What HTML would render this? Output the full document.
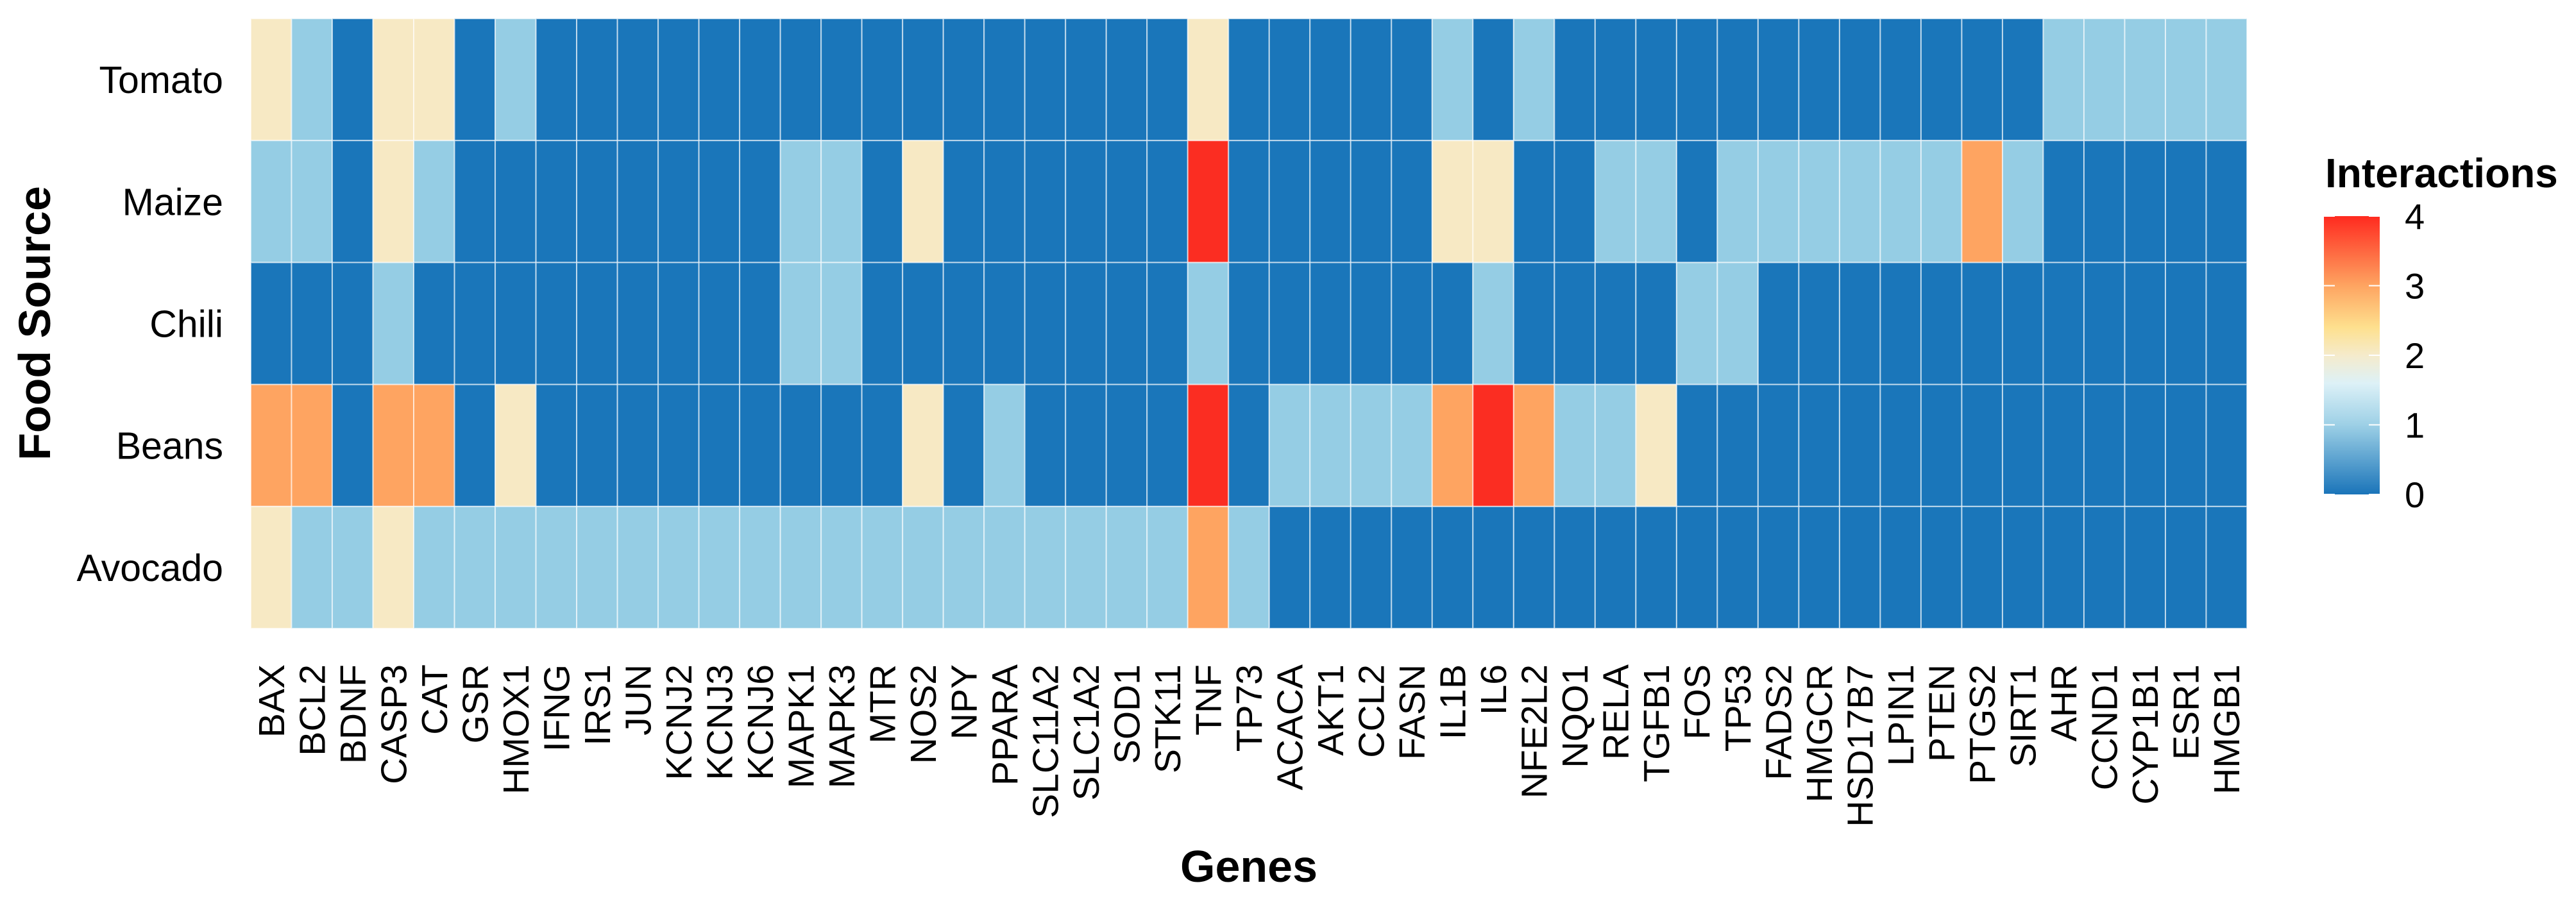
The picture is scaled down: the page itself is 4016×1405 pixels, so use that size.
<!DOCTYPE html>
<html><head><meta charset="utf-8">
<style>
html,body{margin:0;padding:0;background:#fff;}
svg{display:block;font-family:"Liberation Sans",Arial,sans-serif;}
</style></head>
<body>
<svg id="chart" width="4016" height="1405" viewBox="0 0 4016 1405" xmlns="http://www.w3.org/2000/svg">
<defs>
<linearGradient id="lg" x1="0" y1="1" x2="0" y2="0">
<stop offset="0" stop-color="#1A74B9"/>
<stop offset="0.25" stop-color="#9DD0E6"/>
<stop offset="0.4" stop-color="#DDF1F7"/>
<stop offset="0.5" stop-color="#F5EBCB"/>
<stop offset="0.6" stop-color="#FEE08E"/>
<stop offset="0.75" stop-color="#FEA461"/>
<stop offset="1" stop-color="#FF2A1F"/>
</linearGradient>
</defs>
<g id="cells"></g>
<g id="xlabels"></g>
<g id="ylabels"></g>
<text x="0" y="0" transform="translate(78,504) rotate(-90)" text-anchor="middle" font-size="70" font-weight="bold">Food Source</text>
<text x="1947" y="1375" text-anchor="middle" font-size="70" font-weight="bold">Genes</text>
<g>
<text x="3625" y="292" font-size="64" font-weight="bold">Interactions</text>
<rect x="3623" y="337" width="87" height="434" fill="url(#lg)"/>
<g id="legticks"></g>
</g>
</svg>
<script>
const genes = ["BAX","BCL2","BDNF","CASP3","CAT","GSR","HMOX1","IFNG","IRS1","JUN","KCNJ2","KCNJ3","KCNJ6","MAPK1","MAPK3","MTR","NOS2","NPY","PPARA","SLC11A2","SLC1A2","SOD1","STK11","TNF","TP73","ACACA","AKT1","CCL2","FASN","IL1B","IL6","NFE2L2","NQO1","RELA","TGFB1","FOS","TP53","FADS2","HMGCR","HSD17B7","LPIN1","PTEN","PTGS2","SIRT1","AHR","CCND1","CYP1B1","ESR1","HMGB1"];
const foods = ["Tomato","Maize","Chili","Beans","Avocado"];
const tomato  = [2,1,0,2,2,0,1,0,0,0,0,0,0,0,0,0,0,0,0,0,0,0,0,2,0,0,0,0,0,1,0,1,0,0,0,0,0,0,0,0,0,0,0,0,1,1,1,1,1];
const maize   = [1,1,0,2,1,0,0,0,0,0,0,0,0,1,1,0,2,0,0,0,0,0,0,4,0,0,0,0,0,2,2,0,0,1,1,0,1,1,1,1,1,1,3,1,0,0,0,0,0];
const chili   = [0,0,0,1,0,0,0,0,0,0,0,0,0,1,1,0,0,0,0,0,0,0,0,1,0,0,0,0,0,0,1,0,0,0,0,1,1,0,0,0,0,0,0,0,0,0,0,0,0];
const beans   = [3,3,0,3,3,0,2,0,0,0,0,0,0,0,0,0,2,0,1,0,0,0,0,4,0,1,1,1,1,3,4,3,1,1,2,0,0,0,0,0,0,0,0,0,0,0,0,0,0];
const avocado = [2,1,1,2,1,1,1,1,1,1,1,1,1,1,1,1,1,1,1,1,1,1,1,3,1,0,0,0,0,0,0,0,0,0,0,0,0,0,0,0,0,0,0,0,0,0,0,0,0];
const legendTicks = [0,1,2,3,4];

const rows = [tomato, maize, chili, beans, avocado];
const NS = "http://www.w3.org/2000/svg";
const X0 = 391, X1 = 3503, Y0 = 29, Y1 = 980;
const cw = (X1 - X0) / genes.length, ch = (Y1 - Y0) / foods.length;
const xPos = i => X0 + i * cw;
const yPos = j => Y0 + j * ch;
const palette = ["#1A76BA","#95CDE4","#F7E9C4","#FEA461","#FB2D22"];
const color = v => palette[Math.max(0, Math.min(4, Math.round(v)))];
const LB0 = 771, LB1 = 337;
const legY = v => LB0 - (v / 4) * (LB0 - LB1);

const cells = document.getElementById("cells");
rows.forEach((row, j) => {
  row.forEach((v, i) => {
    const r = document.createElementNS(NS, "rect");
    r.setAttribute("x", xPos(i)); r.setAttribute("y", yPos(j));
    r.setAttribute("width", cw); r.setAttribute("height", ch);
    r.setAttribute("fill", color(v));
    r.setAttribute("stroke", "rgba(255,255,255,0.6)"); r.setAttribute("stroke-width", "2");
    
    
    cells.appendChild(r);
  });
});
const xl = document.getElementById("xlabels");
genes.forEach((g, i) => {
  const t = document.createElementNS(NS, "text");
  const cx = xPos(i) + cw / 2 + 20;
  t.setAttribute("transform", "translate(" + cx + ",1036) rotate(-90)");
  t.setAttribute("text-anchor", "end");
  t.setAttribute("font-size", "57");
  t.textContent = g;
  
  
  xl.appendChild(t);
});
const yl = document.getElementById("ylabels");
foods.forEach((f, j) => {
  const t = document.createElementNS(NS, "text");
  t.setAttribute("x", 348); t.setAttribute("y", yPos(j) + ch / 2 + 21);
  t.setAttribute("text-anchor", "end"); t.setAttribute("font-size", "59");
  t.textContent = f;
  
  
  yl.appendChild(t);
});
const lt = document.getElementById("legticks");
legendTicks.forEach(v => {
  const y = legY(v);
  [3623, 3693].forEach(x => {
    const l = document.createElementNS(NS, "line");
    l.setAttribute("x1", x); l.setAttribute("x2", x + 17);
    l.setAttribute("y1", y); l.setAttribute("y2", y);
    l.setAttribute("stroke", "#fff"); l.setAttribute("stroke-width", "2");
    
    
    lt.appendChild(l);
  });
  const t = document.createElementNS(NS, "text");
  t.setAttribute("x", 3749); t.setAttribute("y", y + 20);
  t.setAttribute("font-size", "56");
  t.textContent = v;
  
  
  lt.appendChild(t);
});
</script>
</body></html>
